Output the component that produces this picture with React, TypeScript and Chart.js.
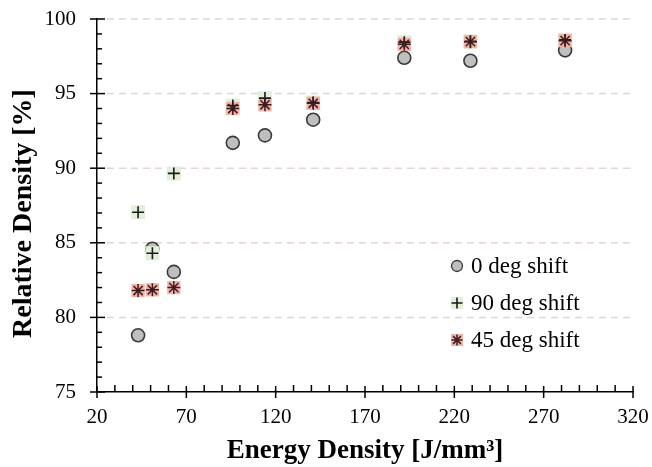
import React, { useEffect, useRef } from 'react';
import { Chart, registerables } from 'chart.js';

Chart.register(...registerables);

const energyDensity = [43, 51, 63, 96, 114, 141, 192, 229, 282];
const shift0 = [78.8, 84.6, 83.05, 91.7, 92.2, 93.25, 97.4, 97.2, 97.9];
const shift90 = [87.05, 84.3, 89.65, 94.2, 94.7, 94.4, 98.45, 98.5, 98.6];
const shift45 = [81.8, 81.85, 82.0, 94.0, 94.25, 94.35, 98.3, 98.48, 98.55];
const seriesLabels = ['0 deg shift', '90 deg shift', '45 deg shift'];
const xTicks = [20, 70, 120, 170, 220, 270, 320];
const yTicks = [75, 80, 85, 90, 95, 100];
const xTitle = 'Energy Density [J/mm³]';
const yTitle = 'Relative Density [%]';

const FONT = '"Liberation Serif", "Times New Roman", serif';
const GRAY = '#bfbfbf';
const GRAY_EDGE = '#3a3a3a';
const GREEN = '#e2efda';
const PINK = '#f2b2a8';
const INK = '#1a1a1a';
const STAR_INK = '#3a1c1c';

const toPoints = (ys: number[]) => energyDensity.map((x, i) => ({ x, y: ys[i] }));

function drawCross(ctx: CanvasRenderingContext2D, x: number, y: number, r: number) {
  ctx.beginPath();
  ctx.moveTo(x - r, y);
  ctx.lineTo(x + r, y);
  ctx.moveTo(x, y - r);
  ctx.lineTo(x, y + r);
  ctx.stroke();
}

function drawStar(ctx: CanvasRenderingContext2D, x: number, y: number, r: number) {
  drawCross(ctx, x, y, r);
  const d = r * Math.SQRT1_2;
  ctx.beginPath();
  ctx.moveTo(x - d, y - d);
  ctx.lineTo(x + d, y + d);
  ctx.moveTo(x - d, y + d);
  ctx.lineTo(x + d, y - d);
  ctx.stroke();
}

const decorPlugin = {
  id: 'decor',
  beforeDatasetsDraw(chart: any) {
    const { ctx, chartArea, scales } = chart;
    const y = scales.y;
    ctx.save();
    ctx.strokeStyle = '#e4d4d4';
    ctx.lineWidth = 1.5;
    ctx.setLineDash([7, 5]);
    for (const v of yTicks) {
      if (v === yTicks[0]) continue;
      const py = y.getPixelForValue(v);
      ctx.beginPath();
      ctx.moveTo(chartArea.left + 10, py);
      ctx.lineTo(chartArea.right, py);
      ctx.stroke();
    }
    ctx.restore();
  },
  afterDraw(chart: any) {
    const { ctx, chartArea, scales } = chart;
    const x = scales.x;
    const y = scales.y;
    ctx.save();
    ctx.strokeStyle = '#000';
    ctx.lineWidth = 1.5;
    for (let v = xTicks[0]; v <= xTicks[xTicks.length - 1]; v += 10) {
      const px = x.getPixelForValue(v);
      const major = xTicks.includes(v);
      ctx.beginPath();
      if (major) {
        ctx.moveTo(px, chartArea.bottom - 6);
        ctx.lineTo(px, chartArea.bottom + 6);
      } else {
        ctx.moveTo(px, chartArea.bottom - 7);
        ctx.lineTo(px, chartArea.bottom);
      }
      ctx.stroke();
    }
    for (let v = yTicks[0]; v <= yTicks[yTicks.length - 1]; v += 1) {
      const py = y.getPixelForValue(v);
      const major = yTicks.includes(v);
      ctx.beginPath();
      if (major) {
        ctx.moveTo(chartArea.left - 7, py);
        ctx.lineTo(chartArea.left + 8, py);
      } else {
        ctx.moveTo(chartArea.left, py);
        ctx.lineTo(chartArea.left + 5, py);
      }
      ctx.stroke();
    }
    // y-axis title (placed slightly below the plot centre, as in the reference)
    ctx.save();
    ctx.translate(24, (chartArea.top + chartArea.bottom) / 2 + 8);
    ctx.rotate(-Math.PI / 2);
    ctx.fillStyle = '#000';
    ctx.font = `bold 28px ${FONT}`;
    ctx.textAlign = 'center';
    ctx.textBaseline = 'middle';
    ctx.fillText(yTitle, 0, 0);
    ctx.restore();
    // legend
    const mx = 457;
    const tx = 471;
    const rows = [266, 303, 340];
    ctx.fillStyle = GRAY;
    ctx.strokeStyle = GRAY_EDGE;
    ctx.lineWidth = 1.3;
    ctx.beginPath();
    ctx.arc(mx, rows[0], 5.5, 0, Math.PI * 2);
    ctx.fill();
    ctx.stroke();
    ctx.fillStyle = GREEN;
    ctx.fillRect(mx - 6, rows[1] - 6, 12, 12);
    ctx.strokeStyle = INK;
    ctx.lineWidth = 1.6;
    drawCross(ctx, mx, rows[1], 5.5);
    ctx.fillStyle = PINK;
    ctx.fillRect(mx - 6, rows[2] - 6, 12, 12);
    ctx.strokeStyle = STAR_INK;
    ctx.lineWidth = 1.5;
    drawStar(ctx, mx, rows[2], 5.5);
    ctx.fillStyle = '#000';
    ctx.font = `23px ${FONT}`;
    ctx.textAlign = 'left';
    ctx.textBaseline = 'middle';
    seriesLabels.forEach((s, i) => ctx.fillText(s, tx, rows[i] + 1));
    ctx.restore();
  },
};

const noPad = (s: any) => {
  s.paddingTop = 0;
  s.paddingBottom = 0;
  s.paddingLeft = 0;
  s.paddingRight = 0;
};

export default function App() {
  const canvasRef = useRef<HTMLCanvasElement | null>(null);

  useEffect(() => {
    const canvas = canvasRef.current;
    if (!canvas) return;
    const chart = new Chart(canvas, {
      type: 'scatter',
      data: {
        datasets: [
          {
            label: seriesLabels[0],
            data: toPoints(shift0),
            pointStyle: 'circle',
            pointRadius: 6.5,
            backgroundColor: GRAY,
            borderColor: GRAY_EDGE,
            borderWidth: 1.6,
            order: 5,
          },
          {
            label: seriesLabels[1] + ' bg',
            data: toPoints(shift90),
            pointStyle: 'rect',
            pointRadius: 9.9,
            backgroundColor: GREEN,
            borderColor: GREEN,
            borderWidth: 0,
            order: 4,
          },
          {
            label: seriesLabels[2] + ' bg',
            data: toPoints(shift45),
            pointStyle: 'rect',
            pointRadius: 9.4,
            backgroundColor: PINK,
            borderColor: PINK,
            borderWidth: 0,
            order: 3,
          },
          {
            label: seriesLabels[1],
            data: toPoints(shift90),
            pointStyle: 'cross',
            pointRadius: 6,
            backgroundColor: INK,
            borderColor: INK,
            borderWidth: 1.6,
            order: 2,
          },
          {
            label: seriesLabels[2],
            data: toPoints(shift45),
            pointStyle: 'star',
            pointRadius: 6.5,
            backgroundColor: STAR_INK,
            borderColor: STAR_INK,
            borderWidth: 1.5,
            order: 1,
          },
        ],
      },
      options: {
        responsive: false,
        animation: false,
        devicePixelRatio: 1,
        layout: { padding: { top: 19, right: 19, left: 0, bottom: 0 } },
        plugins: {
          legend: { display: false },
          tooltip: { enabled: false },
        },
        scales: {
          x: {
            type: 'linear',
            min: 20,
            max: 320,
            afterBuildTicks: (s: any) => {
              s.ticks = xTicks.map((v) => ({ value: v }));
            },
            afterFit: (s: any) => {
              s.height = 75;
              noPad(s);
            },
            ticks: {
              font: { family: FONT, size: 21 },
              color: '#000',
              padding: 13,
              maxRotation: 0,
              autoSkip: false,
            },
            grid: { display: false, drawTicks: false },
            border: { display: true, color: '#000', width: 1.5 },
            title: {
              display: true,
              text: xTitle,
              font: { family: FONT, size: 27, weight: 'bold' },
              color: '#000',
              padding: { top: 0, bottom: 0 },
            },
          },
          y: {
            type: 'linear',
            min: 75,
            max: 100,
            afterBuildTicks: (s: any) => {
              s.ticks = yTicks.map((v) => ({ value: v }));
            },
            afterFit: (s: any) => {
              s.width = 97;
              noPad(s);
            },
            ticks: {
              font: { family: FONT, size: 21 },
              color: '#000',
              padding: 21,
              autoSkip: false,
            },
            grid: { display: false, drawTicks: false },
            border: { display: true, color: '#000', width: 1.5 },
            title: { display: false, text: yTitle },
          },
        },
      } as any,
      plugins: [decorPlugin as any],
    });
    return () => chart.destroy();
  }, []);

  return (
    <div style={{ position: 'absolute', left: 0, top: 0, width: 652, height: 467, background: '#fff' }}>
      <canvas ref={canvasRef} width={652} height={467} style={{ display: 'block' }} />
    </div>
  );
}
